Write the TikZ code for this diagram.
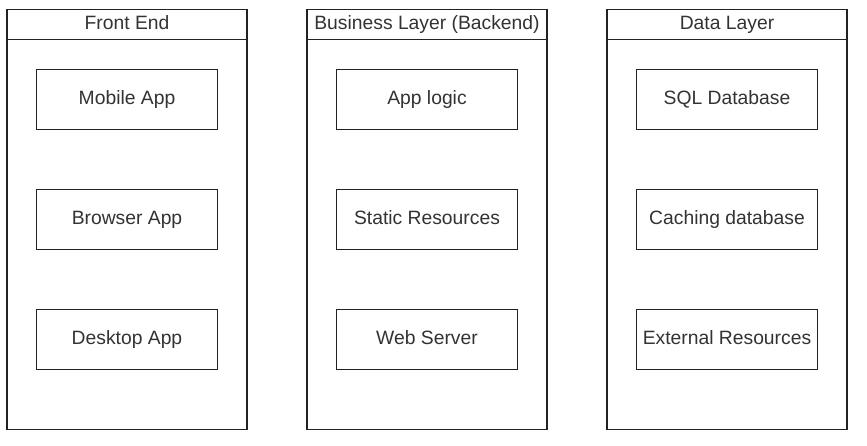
\documentclass[tikz,border=0pt]{standalone}
\usepackage{fontspec}
\setmainfont{Liberation Sans}
\usepackage{tikz}
\usetikzlibrary{positioning}
\definecolor{layerLine}{RGB}{34,34,34}
\definecolor{layerInk}{RGB}{51,51,51}
\tikzset{
  layerbox/.style={draw=layerLine, line width=1.2pt, outer sep=0pt, minimum width=240pt, minimum height=420pt, fill=white},
  headbox/.style={draw=layerLine, line width=1.2pt, outer sep=0pt, minimum width=240pt, minimum height=30pt, inner sep=0pt, text height=13.5pt, text depth=4pt, text=layerInk, font=\fontsize{19.3}{22}\selectfont},
  compbox/.style={draw=layerLine, line width=1.2pt, outer sep=0pt, minimum width=181pt, minimum height=60pt, inner sep=0pt, text height=13.5pt, text depth=4pt, text=layerInk, font=\fontsize{19.3}{22}\selectfont}
}

\begin{document}
\begin{tikzpicture}[x=1pt, y=-1pt]
        \useasboundingbox[fill=white] (0,0) rectangle (867,445);
        % the three layers
        \node[layerbox] (fe) at (127,219.5) {};
        \node[layerbox, right=60pt of fe] (bl) {};
        \node[layerbox, right=60pt of bl] (dl) {};
        \node[headbox, below=0pt of fe.north] (fehead) {Front End};
        \node[headbox, below=0pt of bl.north] (blhead) {Business Layer (Backend)};
        \node[headbox, below=0pt of dl.north] (dlhead) {Data Layer};
        % front end
        \node[compbox, below=30pt of fehead] (mobile) {Mobile App};
        \node[compbox, below=60pt of mobile] (browser) {Browser App};
        \node[compbox, below=60pt of browser] (desktop) {Desktop App};
        % business layer
        \node[compbox, below=30pt of blhead] (logic) {App logic};
        \node[compbox, below=60pt of logic] (static) {Static Resources};
        \node[compbox, below=60pt of static] (webserver) {Web Server};
        % data layer
        \node[compbox, below=30pt of dlhead] (sqldb) {SQL Database};
        \node[compbox, below=60pt of sqldb] (cachedb) {Caching database};
        \node[compbox, below=60pt of cachedb] (external) {External Resources};
      \end{tikzpicture}
\end{document}
